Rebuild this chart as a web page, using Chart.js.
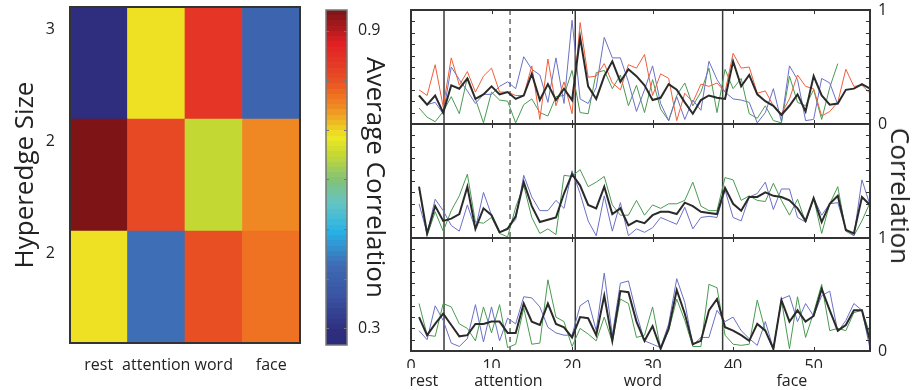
<!DOCTYPE html>
<html>
<head>
<meta charset="utf-8">
<script src="https://cdn.jsdelivr.net/npm/chart.js@4.4.1/dist/chart.umd.min.js"></script>
<style>
  body { margin: 0; background: #fff; }
  #wrap { position: relative; width: 914px; height: 390px; overflow: hidden; }
  canvas { position: absolute; top: 0; }
  #corrTitle {
    position: absolute; left: 901px; top: 196px;
    transform: translate(-50%, -50%) rotate(90deg);
    font: 26px 'Open Sans', 'Noto Sans', sans-serif; color: #222;
    white-space: nowrap; line-height: 1;
  }
</style>
</head>
<body>
<div id="wrap">
  <canvas id="heat" width="310" height="390" style="left:0"></canvas>
  <canvas id="cbar" width="92" height="390" style="left:310px"></canvas>
  <canvas id="p1" width="514" height="390" style="left:400px"></canvas>
  <canvas id="p2" width="514" height="390" style="left:400px"></canvas>
  <canvas id="p3" width="514" height="390" style="left:400px"></canvas>
  <div id="corrTitle">Correlation</div>
</div>
<script>
// ---- heatmap data (rows listed bottom to top) ----
const tasks = ['rest', 'attention', 'word', 'face'];
const sizeLabels = ['2', '2', '3'];
const sizeTickPos = [0.8, 1.8, 2.8];
const avgCorr = [
  [0.69, 0.43, 0.80, 0.77],
  [0.94, 0.81, 0.65, 0.75],
  [0.29, 0.69, 0.84, 0.41]
];
const cMin = 0.266, cMax = 0.942;
const cbarLabelTicks = [0.3, 0.9];
const cbarMinorTicks = [0.3, 0.4, 0.5, 0.6, 0.7, 0.8, 0.9];

// ---- time courses ----
const xTickVals = [0, 10, 20, 30, 40, 50];
const yTickVals = [0, 1];
const yMinorTicks = [0.1, 0.2, 0.3, 0.4, 0.5, 0.6, 0.7, 0.8, 0.9];
const stageBounds = [4.1, 12.3, 20.4, 38.7];
const stageDashed = [false, true, false, false];
const stageNames = ['rest', 'attention', 'word', 'face'];
const stageLabelPos = [1.6, 12.1, 28.8, 47.3];

const p1Red = [0.30,0.25,0.52,0.15,0.58,0.34,0.46,0.28,0.42,0.49,0.28,0.28,0.25,0.25,0.51,0.04,0.57,0.16,0.37,0.09,0.89,0.41,0.42,0.53,0.36,0.30,0.52,
  0.49,0.61,0.25,0.44,0.40,0.03,0.27,0.19,0.35,0.33,0.36,0.28,0.62,0.49,0.50,0.27,0.29,0.16,0.09,0.22,0.43,0.33,0.31,0.07,0.11,0.19,0.48,0.33,0.34,0.27];
const p1Blue = [0.25,0.17,0.19,0.09,0.50,0.39,0.29,0.18,0.26,0.26,0.33,0.37,0.31,0.59,0.48,0.43,0.19,0.58,0.18,0.91,0.22,0.18,0.32,0.76,0.58,0.58,0.37,
  0.11,0.30,0.51,0.18,0.03,0.24,0.04,0.21,0.12,0.55,0.39,0.28,0.22,0.21,0.19,0.01,0.10,0.31,0.02,0.51,0.39,0.03,0.04,0.40,0.36,0.17];
const p1Green = [0.14,0.06,0.02,0.11,0.24,0.09,0.41,0.22,0.01,0.28,0.21,0.20,0.01,0.17,0.22,0.10,0.07,0.24,0.25,0.47,0.10,0.09,0.45,0.47,0.31,0.43,0.16,
  0.34,0.10,0.39,0.13,0.03,0.25,0.36,0.16,0.28,0.49,0.10,0.48,0.31,0.40,0.09,0.05,0.16,0.03,0.01,0.42,0.19,0.16,0.30,0.04,0.32,0.53];
const p1Mean = [0.25,0.17,0.25,0.10,0.34,0.31,0.40,0.22,0.26,0.33,0.26,0.28,0.22,0.25,0.44,0.21,0.35,0.21,0.31,0.21,0.76,0.33,0.22,0.42,0.55,0.37,0.48,
  0.42,0.34,0.21,0.23,0.35,0.30,0.19,0.09,0.21,0.25,0.23,0.22,0.55,0.33,0.43,0.26,0.20,0.16,0.08,0.16,0.26,0.11,0.42,0.25,0.17,0.18,0.30,0.31,0.35,0.31];

const p2Blue = [0.30,0.04,0.34,0.24,0.11,0.06,0.29,0.08,0.40,0.20,0.05,0.09,0.16,0.55,0.36,0.24,0.24,0.33,0.26,0.59,0.39,0.15,0.02,0.37,0.06,0.31,0.02,
  0.08,0.05,0.09,0.18,0.15,0.12,0.27,0.08,0.18,0.19,0.18,0.42,0.18,0.15,0.36,0.39,0.49,0.25,0.43,0.43,0.18,0.14,0.35,0.20,0.30,0.31,0.08,0.02,0.51,0.29];
const p2Green = [0.43,0.02,0.23,0.06,0.24,0.37,0.56,0.14,0.13,0.18,0.04,0.01,0.27,0.46,0.18,0.04,0.08,0.03,0.55,0.54,0.60,0.45,0.49,0.54,0.29,0.20,0.20,
  0.33,0.20,0.29,0.26,0.30,0.30,0.33,0.49,0.28,0.24,0.24,0.53,0.51,0.33,0.37,0.33,0.32,0.48,0.33,0.20,0.34,0.14,0.35,0.04,0.30,0.45,0.06,0.02,0.15,0.31];
const p2Mean = [0.45,0.04,0.28,0.15,0.17,0.21,0.45,0.08,0.26,0.20,0.05,0.08,0.19,0.49,0.28,0.14,0.16,0.18,0.39,0.56,0.46,0.29,0.26,0.45,0.21,0.26,0.11,
  0.15,0.13,0.20,0.23,0.23,0.21,0.31,0.28,0.23,0.22,0.21,0.44,0.30,0.24,0.36,0.36,0.40,0.37,0.36,0.33,0.26,0.15,0.35,0.14,0.30,0.37,0.07,0.04,0.36,0.29];

const p3Blue = [0.18,0.10,0.40,0.27,0.07,0.04,0.11,0.41,0.08,0.39,0.09,0.29,0.24,0.48,0.47,0.39,0.21,0.16,0.14,0.14,0.40,0.45,0.18,0.69,0.14,0.60,0.62,
  0.33,0.09,0.06,0.03,0.24,0.64,0.43,0.05,0.12,0.12,0.36,0.26,0.30,0.18,0.11,0.05,0.26,0.02,0.46,0.49,0.26,0.42,0.31,0.49,0.53,0.17,0.27,0.42,0.36,0.02];
const p3Green = [0.42,0.14,0.13,0.42,0.39,0.24,0.20,0.09,0.39,0.16,0.41,0.03,0.06,0.38,0.06,0.07,0.63,0.30,0.26,0.04,0.20,0.15,0.09,0.30,0.08,0.46,0.42,
  0.12,0.14,0.39,0.02,0.18,0.46,0.27,0.04,0.04,0.59,0.56,0.14,0.06,0.05,0.06,0.45,0.18,0.01,0.45,0.02,0.48,0.12,0.34,0.59,0.18,0.20,0.18,0.34,0.36,0.15];
const p3Mean = [0.30,0.14,0.24,0.33,0.23,0.13,0.14,0.24,0.24,0.26,0.26,0.16,0.16,0.42,0.26,0.23,0.42,0.24,0.21,0.12,0.30,0.29,0.14,0.49,0.09,0.53,0.52,
  0.26,0.09,0.22,0.02,0.20,0.54,0.33,0.06,0.09,0.36,0.46,0.21,0.18,0.14,0.09,0.24,0.18,0.02,0.45,0.26,0.36,0.26,0.31,0.55,0.36,0.18,0.23,0.36,0.36,0.09];

const timePoints = Array.from({ length: 57 }, (_, i) => i + 1);

Chart.defaults.font.family = "'Open Sans', 'Noto Sans', sans-serif";
Chart.defaults.color = '#222';
Chart.defaults.animation = false;
Chart.defaults.plugins.legend.display = false;
Chart.defaults.plugins.tooltip.enabled = false;

// colormap (jet-like), position -> colour
const cmapStops = [
  [0.00, '#2b2c7c'], [0.04, '#2e2d7e'], [0.15, '#3b55a4'], [0.21, '#3c63ae'],
  [0.24, '#3f6db5'], [0.34, '#27b2e6'], [0.42, '#62c4c6'], [0.49, '#80c27a'],
  [0.57, '#c6d932'], [0.62, '#eee824'], [0.71, '#ef8b22'], [0.75, '#ef6e22'],
  [0.79, '#e85024'], [0.85, '#e43527'], [0.90, '#e21f23'], [0.95, '#a81a1d'],
  [1.00, '#7b1416']
];
function hexRgb(h) {
  return [parseInt(h.slice(1, 3), 16), parseInt(h.slice(3, 5), 16), parseInt(h.slice(5, 7), 16)];
}
function cmapAt(t) {
  t = Math.max(0, Math.min(1, t));
  for (let i = 1; i < cmapStops.length; i++) {
    if (t <= cmapStops[i][0]) {
      const [t0, c0] = cmapStops[i - 1], [t1, c1] = cmapStops[i];
      const f = (t - t0) / (t1 - t0);
      const a = hexRgb(c0), b = hexRgb(c1);
      return 'rgb(' + a.map((v, k) => Math.round(v + (b[k] - v) * f)).join(',') + ')';
    }
  }
  return cmapStops[cmapStops.length - 1][1];
}
function corrColor(v) { return cmapAt((v - cMin) / (cMax - cMin)); }

// frame + inward tick marks
const framePlugin = {
  id: 'frame',
  afterDraw(chart, args, opts) {
    const { ctx, chartArea: a } = chart;
    ctx.save();
    ctx.strokeStyle = opts.color || '#333';
    ctx.lineWidth = opts.width || 2;
    ctx.strokeRect(a.left, a.top, a.right - a.left, a.bottom - a.top);
    ctx.lineWidth = 1;
    const len = opts.tickLen || 4;
    (opts.yTicks || []).forEach(v => {
      const y = Math.round(chart.scales.y.getPixelForValue(v)) + 0.5;
      ctx.beginPath();
      ctx.moveTo(a.left, y); ctx.lineTo(a.left + len, y);
      ctx.moveTo(a.right, y); ctx.lineTo(a.right - len, y);
      ctx.stroke();
    });
    (opts.xTicks || []).forEach(v => {
      const x = Math.round(chart.scales.x.getPixelForValue(v)) + 0.5;
      ctx.beginPath();
      ctx.moveTo(x, a.top); ctx.lineTo(x, a.top + len);
      ctx.moveTo(x, a.bottom); ctx.lineTo(x, a.bottom - len);
      ctx.stroke();
    });
    ctx.restore();
  }
};

// vertical task boundaries
const stagePlugin = {
  id: 'stages',
  beforeDatasetsDraw(chart) {
    const { ctx, chartArea: a } = chart;
    ctx.save();
    stageBounds.forEach((b, i) => {
      const x = chart.scales.x.getPixelForValue(b);
      ctx.beginPath();
      ctx.strokeStyle = stageDashed[i] ? '#666' : '#3a3a3a';
      ctx.lineWidth = 1.5;
      ctx.setLineDash(stageDashed[i] ? [5, 4] : []);
      ctx.moveTo(x, a.top); ctx.lineTo(x, a.bottom);
      ctx.stroke();
    });
    ctx.restore();
  }
};

const noGrid = { display: false, drawTicks: false };

// ---- heatmap ----
new Chart(document.getElementById('heat'), {
  type: 'bar',
  data: {
    labels: tasks,
    datasets: avgCorr.map(row => ({
      data: row.map(() => 1),
      backgroundColor: row.map(corrColor),
      borderWidth: 0,
      barPercentage: 1,
      categoryPercentage: 1
    }))
  },
  options: {
    responsive: false,
    devicePixelRatio: 1,
    layout: { padding: { left: 0, top: 7, right: 10, bottom: 0 } },
    scales: {
      x: {
        stacked: true,
        grid: noGrid,
        border: { display: false },
        ticks: { padding: 13, font: { size: 16 }, maxRotation: 0, autoSkip: false },
        afterFit: s => { s.height = 47; s.paddingLeft = 0; s.paddingRight = 0; }
      },
      y: {
        stacked: true,
        min: 0, max: 3,
        grid: noGrid,
        border: { display: false },
        afterBuildTicks: s => { s.ticks = sizeTickPos.map(v => ({ value: v })); },
        ticks: { padding: 15, font: { size: 16 }, callback: (v, i) => sizeLabels[i] },
        title: { display: true, text: 'Hyperedge Size', font: { size: 26 }, padding: { top: 10, bottom: 0 } },
        afterFit: s => { s.width = 70; s.paddingTop = 0; s.paddingBottom = 0; }
      }
    },
    plugins: { frame: { color: '#333', width: 2 } }
  },
  plugins: [framePlugin]
});

// ---- colour bar ----
new Chart(document.getElementById('cbar'), {
  type: 'bar',
  data: {
    labels: [''],
    datasets: [{
      data: [[cMin, cMax]],
      barPercentage: 1,
      categoryPercentage: 1,
      borderWidth: 0,
      backgroundColor: c => {
        const area = c.chart.chartArea;
        if (!area) return '#888';
        const g = c.chart.ctx.createLinearGradient(0, area.bottom, 0, area.top);
        const n = 64;
        for (let i = 0; i < n; i++) {
          const col = cmapAt((i + 0.5) / n);
          g.addColorStop(i / n, col);
          g.addColorStop((i + 1) / n, col);
        }
        return g;
      }
    }]
  },
  options: {
    responsive: false,
    devicePixelRatio: 1,
    layout: { padding: { left: 16, top: 10, right: 0, bottom: 45 } },
    scales: {
      x: { display: false },
      y: {
        position: 'right',
        min: cMin, max: cMax,
        grid: noGrid,
        border: { display: false },
        afterBuildTicks: s => { s.ticks = cbarLabelTicks.map(v => ({ value: v })); },
        ticks: { padding: 11, font: { size: 16 }, callback: v => v.toFixed(1) },
        title: { display: true, text: 'Average Correlation', font: { size: 26 }, padding: { top: 12, bottom: 0 } },
        afterFit: s => { s.width = 55; s.paddingTop = 0; s.paddingBottom = 0; }
      }
    },
    plugins: { frame: { color: '#777', width: 1.5, tickLen: 3, yTicks: cbarMinorTicks } }
  },
  plugins: [framePlugin]
});

// ---- correlation time courses ----
function pts(vals) { return vals.map((v, i) => ({ x: timePoints[i], y: v })); }

function drawPanel(id, lines, cfg) {
  const scales = {
    x: {
      type: 'linear', min: 0, max: 57,
      display: cfg.showX,
      grid: noGrid,
      border: { display: false },
      afterBuildTicks: s => { s.ticks = xTickVals.map(v => ({ value: v })); },
      ticks: { padding: 6, font: { size: 16 }, maxRotation: 0, autoSkip: false },
      afterFit: s => { if (s.options.display) s.height = 17; s.paddingLeft = 0; s.paddingRight = 0; }
    },
    y: {
      position: 'right', min: 0, max: 1,
      grid: noGrid,
      border: { display: false },
      afterBuildTicks: s => { s.ticks = yTickVals.map(v => ({ value: v })); },
      ticks: { display: cfg.showY, padding: 8, font: { size: 16 } },
      afterFit: s => { s.width = 44; s.paddingTop = 0; s.paddingBottom = 0; }
    }
  };
  if (cfg.showX) {
    scales.x2 = {
      type: 'linear', position: 'bottom', axis: 'x', min: 0, max: 57, weight: 1,
      grid: noGrid,
      border: { display: false },
      afterBuildTicks: s => { s.ticks = stageLabelPos.map(v => ({ value: v })); },
      ticks: { padding: 4, font: { size: 16 }, maxRotation: 0, autoSkip: false, callback: (v, i) => stageNames[i] },
      afterFit: s => { s.height = 22; s.paddingLeft = 0; s.paddingRight = 0; }
    };
  }
  new Chart(document.getElementById(id), {
    type: 'line',
    data: {
      datasets: lines.map(l => ({
        data: pts(l.vals),
        borderColor: l.color,
        borderWidth: l.width,
        pointRadius: 0,
        tension: 0,
        fill: false
      }))
    },
    options: {
      responsive: false,
      devicePixelRatio: 1,
      layout: { padding: { left: 11, top: cfg.top, right: 0, bottom: cfg.bottom } },
      scales,
      plugins: { frame: { color: '#333', width: 2, yTicks: yMinorTicks, xTicks: xTickVals.slice(1) } }
    },
    plugins: [stagePlugin, framePlugin]
  });
}

const red = '#ef5f3c', blue = '#6a70c6', green = '#4a9a52', black = '#2a2a2a';

drawPanel('p1', [
  { vals: p1Mean, color: black, width: 2 },
  { vals: p1Red, color: red, width: 1 },
  { vals: p1Blue, color: blue, width: 1 },
  { vals: p1Green, color: green, width: 1 }
], { top: 10, bottom: 266, showX: false, showY: true });

drawPanel('p2', [
  { vals: p2Mean, color: black, width: 2 },
  { vals: p2Blue, color: blue, width: 1 },
  { vals: p2Green, color: green, width: 1 }
], { top: 124, bottom: 152, showX: false, showY: false });

drawPanel('p3', [
  { vals: p3Mean, color: black, width: 2 },
  { vals: p3Blue, color: blue, width: 1 },
  { vals: p3Green, color: green, width: 1 }
], { top: 238, bottom: 0, showX: true, showY: true });
</script>
</body>
</html>
